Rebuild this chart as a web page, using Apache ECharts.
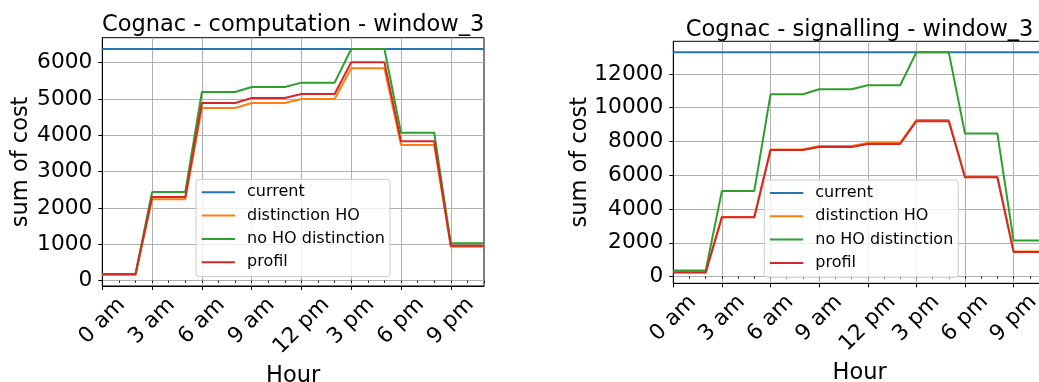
<!DOCTYPE html>
<html>
<head>
<meta charset="utf-8">
<script src="https://cdn.jsdelivr.net/npm/echarts@6/dist/echarts.min.js"></script>
<style>
  html, body { margin: 0; padding: 0; background: #ffffff; }
  #chart { width: 1039px; height: 382px; }
</style>
</head>
<body>
<div id="chart"></div>
<script>
// Hour of day (x values) and the labelled ticks
const hours = [0, 1, 2, 3, 4, 5, 6, 7, 8, 9, 10, 11, 12, 13, 14, 15, 16, 17, 18, 19, 20, 21, 22, 23];
const tickHours = [0, 3, 6, 9, 12, 15, 18, 21];
const tickLabels = ['0 am', '3 am', '6 am', '9 am', '12 pm', '3 pm', '6 pm', '9 pm'];

const seriesNames = ['current', 'distinction HO', 'no HO distinction', 'profil'];
const seriesColors = ['#1f77b4', '#ff7f0e', '#2ca02c', '#d62728'];

// Cognac - computation - window_3
const compCurrent = [6376, 6376, 6376, 6376, 6376, 6376, 6376, 6376, 6376, 6376, 6376, 6376,
                     6376, 6376, 6376, 6376, 6376, 6376, 6376, 6376, 6376, 6376, 6376, 6376];
const compDistinctionHO = [165, 165, 165, 2239, 2239, 2239, 4752, 4752, 4752, 4890, 4890, 4890,
                           5000, 5000, 5000, 5844, 5844, 5844, 3734, 3734, 3734, 936, 936, 936];
const compNoHODistinction = [183, 183, 183, 2440, 2440, 2440, 5193, 5193, 5193, 5330, 5330, 5330,
                             5450, 5450, 5450, 6376, 6376, 6376, 4073, 4073, 4073, 1028, 1028, 1028];
const compProfil = [175, 175, 175, 2303, 2303, 2303, 4890, 4890, 4890, 5028, 5028, 5028,
                    5138, 5138, 5138, 6009, 6009, 6009, 3835, 3835, 3835, 963, 963, 963];
const compYTicks = [0, 1000, 2000, 3000, 4000, 5000, 6000];

// Cognac - signalling - window_3
const sigCurrent = [13282, 13282, 13282, 13282, 13282, 13282, 13282, 13282, 13282, 13282, 13282, 13282,
                    13282, 13282, 13282, 13282, 13282, 13282, 13282, 13282, 13282, 13282, 13282, 13282];
const sigDistinctionHO = [257, 257, 257, 3533, 3533, 3533, 7520, 7520, 7520, 7736, 7736, 7736,
                          7914, 7914, 7914, 9276, 9276, 9276, 5901, 5901, 5901, 1480, 1480, 1480];
const sigNoHODistinction = [355, 355, 355, 5072, 5072, 5072, 10796, 10796, 10796, 11092, 11092, 11092,
                            11328, 11328, 11328, 13282, 13282, 13282, 8467, 8467, 8467, 2131, 2131, 2131];
const sigProfil = [237, 237, 237, 3513, 3513, 3513, 7500, 7500, 7500, 7677, 7677, 7677,
                   7855, 7855, 7855, 9197, 9197, 9197, 5881, 5881, 5881, 1460, 1460, 1460];
const sigYTicks = [0, 2000, 4000, 6000, 8000, 10000, 12000];

const FONT = 'DejaVu Sans';

const panels = [
  {
    title: 'Cognac - computation - window_3',
    values: [compCurrent, compDistinctionHO, compNoHODistinction, compProfil],
    yTicks: compYTicks, yMin: -146, yMax: 6687,
    grid: { left: 102.3, top: 37.7, width: 381.7, height: 248.3 },
    titleTop: 13.5, yNameGap: 69.5, xNameGap: 79,
    legend: { left: 196, top: 179.3 }
  },
  {
    title: 'Cognac - signalling - window_3',
    values: [sigCurrent, sigDistinctionHO, sigNoHODistinction, sigProfil],
    yTicks: sigYTicks, yMin: -400, yMax: 13935,
    grid: { left: 673.3, top: 41.3, width: 372.7, height: 242 },
    titleTop: 18.5, yNameGap: 82, xNameGap: 78.5,
    legend: { left: 764.3, top: 180 }
  }
];

function hourLabel(v) {
  const i = tickHours.indexOf(v);
  if (i < 0) return '';
  const s = tickLabels[i];
  // the wider label sits a little further from the axis
  return s.length > 4 ? '{w|' + s + '}' : s;
}

const option = {
  animation: false,
  backgroundColor: '#ffffff',
  title: [], grid: [], xAxis: [], yAxis: [], legend: [], series: []
};

panels.forEach((p, gi) => {
  option.title.push({
    text: p.title,
    left: p.grid.left + p.grid.width / 2,
    top: p.titleTop,
    textAlign: 'center',
    padding: 0,
    textStyle: { fontFamily: FONT, fontSize: 22.5, fontWeight: 'normal', color: '#000' }
  });
  option.grid.push(Object.assign({
    show: true, borderColor: '#000', borderWidth: 1, backgroundColor: 'transparent',
    containLabel: false, outerBoundsMode: 'none'
  }, p.grid));

  // main hour axis with labelled ticks and grid lines
  option.xAxis.push({
    gridIndex: gi, type: 'value', min: 0, max: 23, position: 'bottom',
    axisLine: { show: true, onZero: false, lineStyle: { color: '#000', width: 1 } },
    axisTick: { show: true, customValues: tickHours, length: 4, lineStyle: { color: '#000', width: 1 } },
    axisLabel: {
      show: true, customValues: tickHours, formatter: hourLabel, hideOverlap: false,
      rotate: 45, align: 'center', verticalAlign: 'middle', margin: 35,
      fontFamily: FONT, fontSize: 21.7, color: '#000',
      rich: { w: { fontFamily: FONT, fontSize: 21.7, color: '#000', padding: [7, 7, 0, 0] } }
    },
    splitLine: { show: true, lineStyle: { color: '#b0b0b0', width: 1 } },
    name: 'Hour', nameLocation: 'middle', nameGap: p.xNameGap, nameMoveOverlap: false,
    nameTextStyle: { fontFamily: FONT, fontSize: 22.5, color: '#000' }
  });
  // hourly minor ticks
  option.xAxis.push({
    gridIndex: gi, type: 'value', min: 0, max: 23, interval: 1, position: 'bottom',
    axisLine: { show: false },
    axisTick: { show: true, length: 2, lineStyle: { color: '#000', width: 1 } },
    axisLabel: { show: false },
    splitLine: { show: false }
  });

  option.yAxis.push({
    gridIndex: gi, type: 'value', min: p.yMin, max: p.yMax,
    axisLine: { show: true, onZero: false, lineStyle: { color: '#000', width: 1 } },
    axisTick: { show: true, customValues: p.yTicks, length: 4, lineStyle: { color: '#000', width: 1 } },
    axisLabel: {
      show: true, customValues: p.yTicks, formatter: (v) => String(v), margin: 10,
      fontFamily: FONT, fontSize: 21.7, color: '#000'
    },
    splitLine: { show: true, lineStyle: { color: '#b0b0b0', width: 1 } },
    name: 'sum of cost', nameLocation: 'middle', nameGap: p.yNameGap, nameRotate: 90, nameMoveOverlap: false,
    nameTextStyle: { fontFamily: FONT, fontSize: 22.5, color: '#000' }
  });

  option.legend.push({
    left: p.legend.left, top: p.legend.top, orient: 'vertical',
    data: seriesNames, selectedMode: false,
    icon: 'rect', itemWidth: 33.3, itemHeight: 2, itemGap: 3.3,
    padding: [3, 5, 4.4, 5.7],
    backgroundColor: 'rgba(255,255,255,0.8)', borderColor: '#cccccc', borderWidth: 1, borderRadius: 3,
    textStyle: { fontFamily: FONT, fontSize: 16, lineHeight: 20, color: '#000', padding: [0, 0, 0, 7] }
  });

  p.values.forEach((vals, si) => {
    option.series.push({
      type: 'line', name: seriesNames[si],
      xAxisIndex: gi * 2, yAxisIndex: gi,
      data: hours.map((h, i) => [h, vals[i]]),
      symbol: 'none', showSymbol: false,
      lineStyle: { color: seriesColors[si], width: 2 },
      itemStyle: { color: seriesColors[si] },
      clip: true
    });
  });
});

const chart = echarts.init(document.getElementById('chart'), null, { renderer: 'canvas' });
chart.setOption(option);
</script>
</body>
</html>
